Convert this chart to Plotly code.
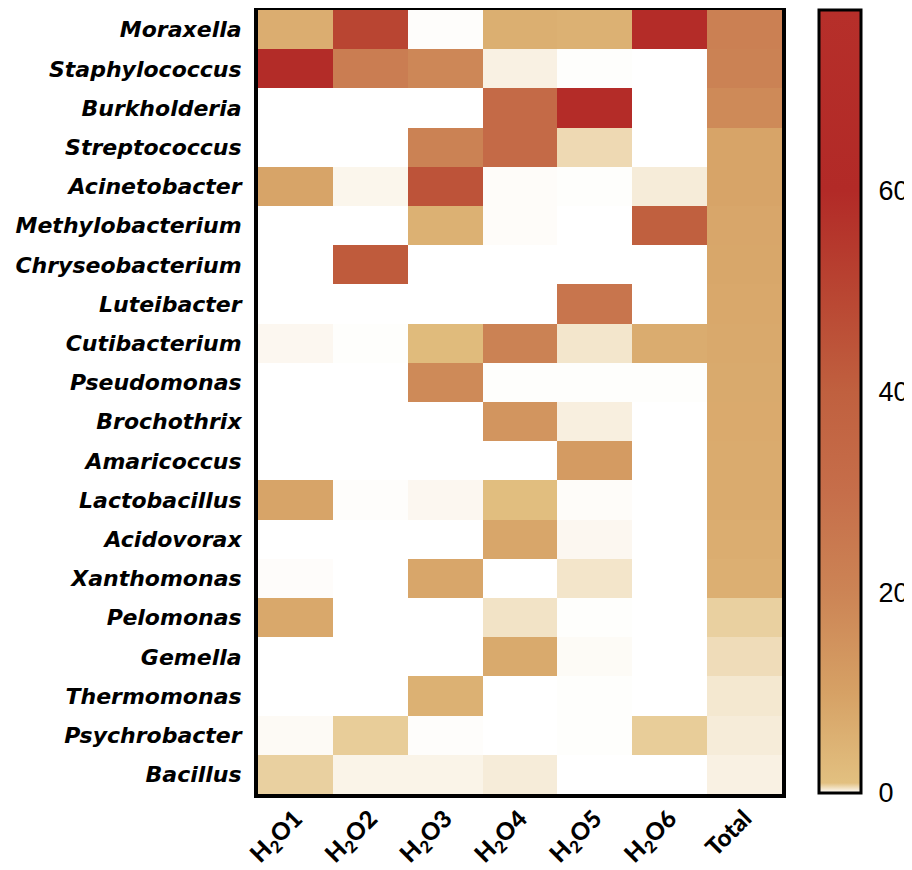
import plotly.graph_objects as go

genera = ["Moraxella", "Staphylococcus", "Burkholderia", "Streptococcus", "Acinetobacter",
          "Methylobacterium", "Chryseobacterium", "Luteibacter", "Cutibacterium", "Pseudomonas",
          "Brochothrix", "Amaricoccus", "Lactobacillus", "Acidovorax", "Xanthomonas",
          "Pelomonas", "Gemella", "Thermomonas", "Psychrobacter", "Bacillus"]
samples = ["H<sub>2</sub>O1", "H<sub>2</sub>O2", "H<sub>2</sub>O3", "H<sub>2</sub>O4",
           "H<sub>2</sub>O5", "H<sub>2</sub>O6", "Total"]

h2o1 = [6.5, 66, 0, 0, 9, 0, 0, 0, 0.12, 0, 0, 0, 9, 0, 0.04, 8, 0, 0, 0.08, 0.75]
h2o2 = [50, 23, 0, 0, 0.15, 0, 42, 0, 0.02, 0, 0, 0, 0.03, 0, 0, 0, 0, 0, 0.8, 0.18]
h2o3 = [0.03, 19, 0, 21, 45, 5.5, 0, 0, 2.5, 18, 0, 0, 0.12, 0, 8.5, 0, 0, 5.5, 0.03, 0.18]
h2o4 = [6, 0.22, 33, 33, 0.05, 0.05, 0, 0, 21, 0.02, 14, 0, 1.5, 8.5, 0, 0.45, 7.5, 0, 0, 0.3]
h2o5 = [5.5, 0.02, 68, 0.6, 0.02, 0, 0, 27, 0.4, 0.02, 0.25, 12, 0.05, 0.12, 0.42, 0.02, 0.07, 0.02, 0.02, 0]
h2o6 = [68, 0, 0, 0, 0.3, 40, 0, 0, 6.8, 0.02, 0, 0, 0, 0, 0, 0, 0, 0, 0.8, 0]
total = [22, 21, 18, 9, 9, 8.5, 8.3, 8, 7.8, 7.5, 7.3, 7, 7, 6.5, 5.8, 0.75, 0.55, 0.37, 0.3, 0.22]

colorbar_ticks = [0, 20, 40, 60]
zmax = 78

columns = [h2o1, h2o2, h2o3, h2o4, h2o5, h2o6, total]
z = [[col[i] for col in columns] for i in range(len(genera))]

colorscale = [
    [0.0, "#FFFFFF"],
    [1.0 / zmax, "#E2C080"],
    [10.0 / zmax, "#D6A165"],
    [20.0 / zmax, "#CC8455"],
    [30.0 / zmax, "#C66E4A"],
    [40.0 / zmax, "#C0603F"],
    [50.0 / zmax, "#B94532"],
    [60.0 / zmax, "#B22A27"],
    [1.0, "#B62F2A"],
]

# the page body adds a small offset, so the figure is laid out slightly smaller
W, H = 904, 862
ml, mr, mt, mb = 250, 130, 2, 76
pw = W - ml - mr
ph = H - mt - mb
cb_thick = 42
cb_x = (811 - ml) / pw
cb_len = (785 - 2) / ph
cb_bottom = (H - mb - 785) / ph

fig = go.Figure(go.Heatmap(
    z=z, x=samples, y=genera,
    zmin=0, zmax=zmax, colorscale=colorscale,
    colorbar=dict(
        x=cb_x, xanchor="left", xpad=0, ypad=0,
        y=cb_bottom, yanchor="bottom", len=cb_len, lenmode="fraction",
        thickness=cb_thick, outlinewidth=3, outlinecolor="black",
        tickvals=colorbar_ticks, ticks="outside", ticklen=11, tickwidth=1,
        tickcolor="rgba(0,0,0,0)",
        tickfont=dict(family="Liberation Sans", size=27, color="black"),
    ),
    hoverongaps=False,
))

# tick marks drawn inside the colour bar on both sides
shapes = []
for v in colorbar_ticks[1:]:
    yp = cb_bottom + v / zmax * cb_len
    shapes.append(dict(type="line", xref="paper", yref="paper",
                       x0=cb_x + 1.5 / pw, x1=cb_x + 9.5 / pw, y0=yp, y1=yp,
                       line=dict(color="black", width=3)))
    shapes.append(dict(type="line", xref="paper", yref="paper",
                       x0=cb_x + (cb_thick - 9.5) / pw, x1=cb_x + (cb_thick - 1.5) / pw,
                       y0=yp, y1=yp, line=dict(color="black", width=3)))

fig.update_layout(
    width=W, height=H,
    margin=dict(l=ml, r=mr, t=mt, b=mb, autoexpand=False),
    paper_bgcolor="white", plot_bgcolor="white",
    shapes=shapes,
)
fig.update_xaxes(
    showline=True, mirror=True, linewidth=4, linecolor="black",
    tickangle=-45, ticks="", showgrid=False, automargin=False, ticklabelstandoff=-3,
    tickfont=dict(family="Lato", size=24, color="black", weight=900),
)
fig.update_yaxes(
    autorange="reversed", showline=True, mirror=True, linewidth=4, linecolor="black",
    ticks="", showgrid=False, ticklabelstandoff=8, automargin=False,
    tickfont=dict(family="DejaVu Sans", size=22, color="black", weight="bold", style="italic"),
)

fig.write_html("out.html")
